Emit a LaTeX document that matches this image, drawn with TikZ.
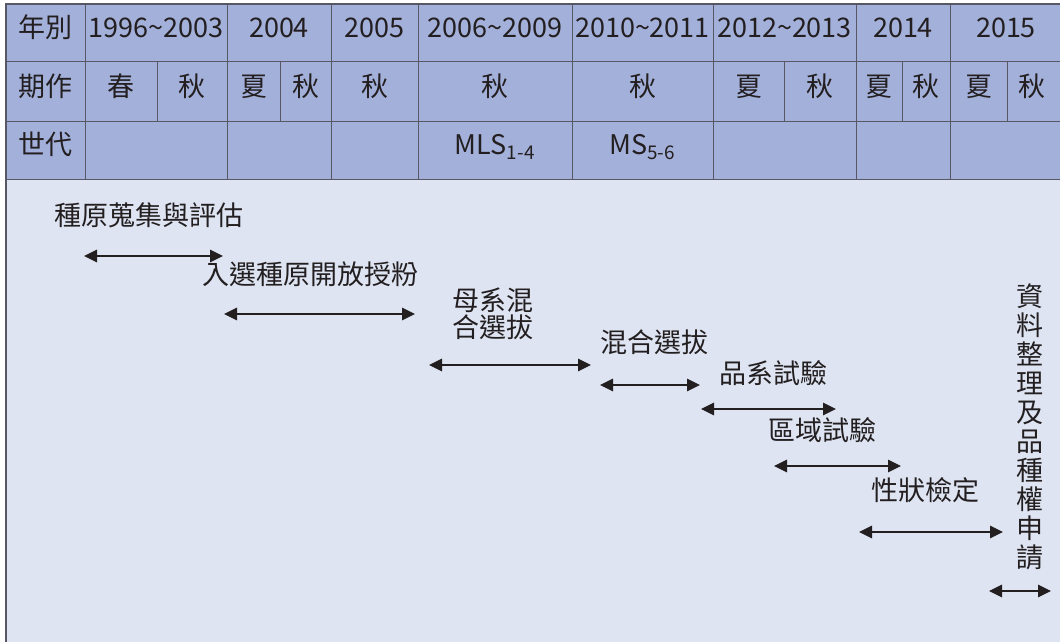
\documentclass[tikz,border=0pt]{standalone}
\usepackage{fontspec}
\setmainfont{Noto Sans CJK TC}
\usepackage{xcolor}
\usetikzlibrary{arrows.meta}

\definecolor{tablefill}{RGB}{163,176,218}
\definecolor{panelfill}{RGB}{222,228,242}
\definecolor{gridline}{RGB}{88,88,100}
\definecolor{inkcol}{RGB}{35,31,32}

\tikzset{
    cell/.style={text=inkcol, font=\fontsize{27}{29}\selectfont, inner sep=0pt, text height=0.9em, text depth=0pt},
    stage/.style={text=inkcol, font=\fontsize{27}{29}\selectfont, inner sep=0pt, align=center},
    span/.style={draw=inkcol, line width=1.4pt, {Triangle[length=13pt,width=12.5pt]}-{Triangle[length=13pt,width=12.5pt]}}
}

\begin{document}
\begin{tikzpicture}[x=1pt,y=-1pt]
        \useasboundingbox (0,0) rectangle (1060,642);

        % Background panels
        \fill[white] (0,0) rectangle (1060,642);
        \fill[panelfill] (6,4) rectangle (1060,642);
        \fill[tablefill] (6,4) rectangle (1060,179);

        % Table grid
        \draw[gridline, line width=1pt] (6,62) -- (1060,62) (6,121) -- (1060,121) (6,179) -- (1060,179);
        \foreach \x in {85,227,331,418,572,713,856,950}
            \draw[gridline, line width=1pt] (\x,4) -- (\x,179);
        \foreach \x in {157,280,784,902,1007}
            \draw[gridline, line width=1pt] (\x,62) -- (\x,121);
        \draw[gridline, line width=1.8pt] (1060,4) -- (6,4) -- (6,642);

        % Row 1: years
        \foreach \nm/\xa/\xb/\lbl in {hdyear/6/85/年別, y9603/85/227/1996\textasciitilde2003, y04/227/331/2004,
                y05/331/418/2005, y0609/418/572/2006\textasciitilde2009, y1011/572/713/2010\textasciitilde2011,
                y1213/713/856/2012\textasciitilde2013, y14/856/950/2014, y15/950/1062/2015}
            \node[cell] (\nm) at ({(\xa+\xb)/2},33) {\lbl};

        % Row 2: seasons
        \foreach \nm/\xa/\xb/\lbl in {hdseason/6/85/期作, s1/85/157/春, s2/157/227/秋, s3/227/280/夏, s4/280/331/秋,
                s5/331/418/秋, s6/418/572/秋, s7/572/713/秋, s8/713/784/夏, s9/784/856/秋,
                s10/856/902/夏, s11/902/950/秋, s12/950/1007/夏, s13/1007/1056/秋}
            \node[cell] (\nm) at ({(\xa+\xb)/2},91.5) {\lbl};

        % Row 3: generations
        \node[cell] (hdgen) at (45.5,150) {世代};
        \node[cell] (gmls) at (495,150) {MLS\textsubscript{1-4}};
        \node[cell] (gms) at (642.5,150) {MS\textsubscript{5-6}};

        % Stages
        \node[cell] (collect) at (149,221) {種原蒐集與評估};
        \node[cell] (openpoll) at (310,280) {入選種原開放授粉};
        \node[stage, font=\fontsize{27}{27.5}\selectfont] (motherline) at (493,314) {母系混\\合選拔};
        \node[cell] (massel) at (654,348) {混合選拔};
        \node[cell] (linetest) at (773,379) {品系試驗};
        \node[cell] (regtest) at (822,436) {區域試驗};
        \node[cell] (traittest) at (925,496) {性狀檢定};
        \node[stage] (dataapp) at (1030,427) {資\\料\\整\\理\\及\\品\\種\\權\\申\\請};

        % Time spans
        \foreach \nm/\xa/\xb/\y in {collect/84/223/256, openpoll/224/415/314, motherline/429/591/365,
                massel/600/700/385, linetest/701/836/409, regtest/774/901/466,
                traittest/859/1003/532, dataapp/989/1051/591} {
            \coordinate (\nm-l) at (\xa,\y);
            \coordinate (\nm-r) at (\xb,\y);
            \draw[span] (\nm-l) -- (\nm-r);
        }
\end{tikzpicture}
\end{document}
